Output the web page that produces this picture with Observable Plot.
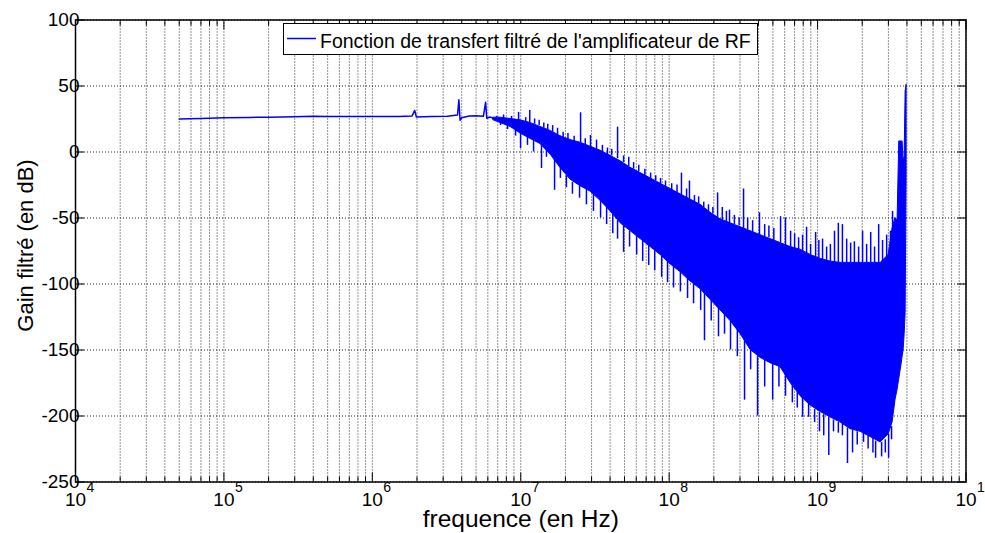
<!DOCTYPE html>
<html>
<head>
<meta charset="utf-8">
<script src="https://cdn.jsdelivr.net/npm/d3@7"></script>
<script src="https://cdn.jsdelivr.net/npm/@observablehq/plot@0.6"></script>
<style>
  html, body { margin: 0; padding: 0; background: #fff; }
  #wrap { position: relative; width: 985px; height: 533px; overflow: hidden; }
  #legend { position: absolute; left: 282.5px; top: 22.5px; width: 475px; height: 32px; box-sizing: border-box; border: 1px solid #000; background: #fff; }
</style>
</head>
<body>
<div id="wrap"><div id="chart"></div><div id="legend"></div></div>
<script>
// ---------------- data ----------------
const seriesName = "Fonction de transfert filtré de l'amplificateur de RF";
const xLabel = "frequence (en Hz)";
const yLabel = "Gain filtré (en dB)";

// low-frequency, clean part of the response
const flatFreq = [5e4, 7e4, 1e5, 1.5e5, 2e5, 3e5, 4e5, 5e5, 7e5, 1e6, 1.5e6, 1.85e6, 1.93e6, 1.98e6, 2.5e6, 3.2e6, 3.75e6, 3.83e6, 3.9e6, 4.0e6, 4.5e6, 5.0e6, 5.6e6, 5.8e6, 5.9e6, 6.2e6, 6.56e6];
const flatGain = [25.0, 25.4, 25.9, 26.2, 26.4, 26.7, 27.0, 26.8, 26.9, 26.8, 26.9, 27.2, 31.5, 26.5, 26.8, 27.0, 28.0, 39.5, 24.0, 26.0, 27.2, 27.5, 27.0, 37.7, 25.5, 26.5, 25.5];

// noisy part: envelope of the dense band
const bandFreq = [6.56e6, 7.31e6, 8.54e6, 9.97e6, 1.16e7, 1.36e7, 1.59e7, 1.85e7, 2.17e7, 2.53e7, 2.95e7, 3.45e7, 4.03e7, 4.71e7, 5.50e7, 6.42e7, 7.50e7, 8.75e7, 1.02e8, 1.19e8, 1.39e8, 1.63e8, 1.90e8, 2.22e8, 2.59e8, 3.03e8, 3.54e8, 4.13e8, 4.82e8, 5.63e8, 6.58e8, 7.68e8, 8.97e8, 1.05e9, 1.22e9, 1.43e9, 1.67e9, 1.95e9, 2.28e9, 2.66e9, 3.01e9, 3.20e9, 3.35e9, 3.46e9, 3.55e9, 3.69e9, 3.74e9, 3.80e9, 3.86e9, 3.92e9, 3.98e9];
const bandHigh = [26, 26, 25, 24, 22, 19, 16, 12, 9, 7, 4, 1, -3, -7, -12, -16, -20, -24, -28, -32, -36, -40, -46, -51, -54, -57, -60, -63, -66, -69, -72, -74, -78, -81, -83, -84, -84, -84, -84, -84, -78, -58, -50, -52, 8, 8, 8, -8, -3, 46, 51];
const bandLow  = [24, 22, 19, 14, 10, 6, -2, -12, -21, -26, -30, -37, -45, -54, -60, -66, -72, -78, -85, -91, -98, -104, -112, -120, -128, -138, -150, -156, -160, -163, -175, -185, -192, -197, -201, -205, -210, -212, -216, -220, -214, -205, -188, -180, -172, -160, -155, -150, -138, -122, -16];

// spikes above the band: frequency, base, tip
const upFreq = [6.87e6, 7.66e6, 8.67e6, 9.67e6, 1.08e7, 1.15e7, 1.24e7, 1.33e7, 1.43e7, 1.52e7, 1.64e7, 1.77e7, 1.93e7, 2.08e7, 2.29e7, 2.53e7, 2.72e7, 2.95e7, 3.24e7, 3.55e7, 3.84e7, 4.10e7, 4.49e7, 4.93e7, 5.34e7, 5.76e7, 6.24e7, 6.86e7, 7.50e7, 8.12e7, 8.75e7, 9.45e7, 1.04e8, 1.13e8, 1.21e8, 1.31e8, 1.37e8, 1.48e8, 1.58e8, 1.71e8, 1.84e8, 1.97e8, 2.12e8, 2.28e8, 2.43e8, 2.55e8, 2.75e8, 2.96e8, 3.17e8, 3.38e8, 3.65e8, 4.06e8, 4.40e8, 4.70e8, 5.07e8, 5.63e8, 6.08e8, 6.58e8, 7.00e8, 7.45e8, 7.92e8, 8.43e8, 8.97e8, 9.70e8, 1.02e9, 1.08e9, 1.15e9, 1.22e9, 1.30e9, 1.38e9, 1.47e9, 1.57e9, 1.67e9, 1.77e9, 1.89e9, 2.01e9, 2.14e9, 2.28e9, 2.42e9, 2.58e9, 2.74e9, 2.92e9, 3.10e9, 3.20e9];
const upBase = [26, 25, 25, 24, 23, 22, 21, 20, 18, 17, 15, 13, 11, 9, 8, 7, 5, 4, 2, 0, -2, -3, -5, -8, -11, -13, -15, -18, -20, -22, -24, -26, -29, -31, -33, -35, -36, -38, -39, -42, -45, -47, -50, -52, -53, -54, -55, -56, -58, -59, -61, -63, -64, -65, -67, -69, -71, -72, -73, -74, -75, -77, -78, -80, -81, -82, -83, -83, -84, -84, -84, -84, -84, -84, -84, -84, -84, -84, -84, -84, -84, -80, -70, -60];
const upTip  = [27, 28, 27, 30, 26, 31.4, 25, 24, 22, 21, 20, 18, 15, 14, 12, 29.7, 10, 12.5, 9, 5, 3, 2, 18.8, -3, -4, -8, -10, -13, -16, -18, -20, -22, -24, -25, -16, -28, -22, -33, -34, -38, -40, -42, -31, -42, -45, -44, -48, -50, -28, -50, -52, -46, -55, -56, -58, -49, -50, -60, -62, -65, -63, -57, -70, -61, -67, -66, -72, -70, -60, -54, -55, -66, -69, -68, -72, -60, -70, -61, -72, -55, -67, -63, -60, -45];

// spikes below the band: frequency, base, tip
const downFreq = [7.31e6, 8.15e6, 9.23e6, 9.97e6, 1.11e7, 1.22e7, 1.38e7, 1.49e7, 1.69e7, 1.85e7, 2.03e7, 2.23e7, 2.49e7, 2.77e7, 3.09e7, 3.45e7, 3.79e7, 4.17e7, 4.49e7, 4.93e7, 5.41e7, 6.04e7, 6.63e7, 7.28e7, 7.99e7, 8.90e7, 9.75e7, 1.07e8, 1.19e8, 1.33e8, 1.46e8, 1.63e8, 1.73e8, 1.92e8, 2.15e8, 2.36e8, 2.59e8, 2.88e8, 3.22e8, 3.54e8, 3.94e8, 4.40e8, 4.98e8, 5.49e8, 6.08e8, 6.76e8, 7.30e8, 7.92e8, 8.70e8, 9.55e8, 1.03e9, 1.10e9, 1.19e9, 1.28e9, 1.38e9, 1.47e9, 1.59e9, 1.72e9, 1.85e9, 2.04e9, 2.19e9, 2.36e9, 2.46e9, 2.70e9, 2.86e9, 3.01e9, 3.15e9];
const downBase = [22, 20, 17, 14, 11, 9, 6, 2, -4, -12, -18, -23, -26, -28, -31, -37, -42, -47, -52, -56, -60, -64, -67, -71, -75, -79, -83, -87, -91, -96, -100, -104, -107, -112, -118, -123, -128, -134, -142, -150, -155, -158, -160, -162, -167, -176, -182, -186, -190, -195, -197, -199, -201, -203, -205, -206, -209, -211, -212, -213, -215, -217, -219, -220, -218, -214, -208];
const downTip  = [20, 17, 12, 2.6, 5, 0, -12.5, -4, -29, -20, -27, -32, -35, -40, -45, -50, -55, -62, -66, -76, -72, -78, -83, -86, -90, -95, -99, -103, -106, -111, -115, -120, -143, -128, -140, -138, -150, -155, -188, -165, -200, -178, -188, -178, -185, -190, -194, -201, -201, -205, -212, -215, -230, -212, -213, -215, -236, -228, -222, -220, -225, -228, -232, -231, -228, -232, -218];

// axes
const xMajorTicks = [1e4, 1e5, 1e6, 1e7, 1e8, 1e9, 1e10];
const xMinorFactors = [2, 3, 4, 5, 6, 7, 8, 9];
const yTicks = [-250, -200, -150, -100, -50, 0, 50, 100];

// ---------------- tables built from the arrays ----------------
const flat = flatFreq.map((f, i) => ({f, g: flatGain[i]}));
const band = bandFreq.map((f, i) => ({f, hi: bandHigh[i], lo: bandLow[i]}));
const ups = upFreq.map((f, i) => ({f, a: upBase[i], b: upTip[i]}));
const downs = downFreq.map((f, i) => ({f, a: downBase[i], b: downTip[i]}));
const xMinorTicks = xMajorTicks.slice(0, -1).flatMap(d => xMinorFactors.map(k => d * k));
const xAllGrid = xMajorTicks.concat(xMinorTicks);

const BLUE = "#0000ff";
const FONT = "'Liberation Sans', Arial, Helvetica, sans-serif";
const GRID = {stroke: "#000", strokeOpacity: 0.85, strokeWidth: 1, strokeDasharray: "1,2"};

const chart = Plot.plot({
  width: 985,
  height: 533,
  marginLeft: 75,
  marginRight: 19.5,
  marginTop: 19.5,
  marginBottom: 51.5,
  style: {fontFamily: FONT, background: "#fff", color: "#000", overflow: "visible"},
  x: {type: "log", domain: [1e4, 1e10], label: null},
  y: {domain: [-250, 100], label: null},
  marks: [
    Plot.gridX(xAllGrid, GRID),
    Plot.gridY(yTicks, GRID),

    Plot.areaY(band, {x: "f", y1: "lo", y2: "hi", fill: BLUE, stroke: BLUE, strokeWidth: 1, curve: "linear"}),
    Plot.ruleX(ups, {x: "f", y1: "a", y2: "b", stroke: BLUE, strokeWidth: 1.5}),
    Plot.ruleX(downs, {x: "f", y1: "a", y2: "b", stroke: BLUE, strokeWidth: 1.5}),
    Plot.line(flat, {x: "f", y: "g", stroke: BLUE, strokeWidth: 1.5}),

    // inward ticks (MATLAB style)
    Plot.axisX(xMinorTicks, {anchor: "bottom", tickSize: -5, tickFormat: () => "", label: null}),
    Plot.axisX(xMinorTicks, {anchor: "top", tickSize: -5, tickFormat: () => "", label: null}),
    Plot.axisX(xMajorTicks, {anchor: "bottom", tickSize: -9, tickFormat: () => "", label: null}),
    Plot.axisX(xMajorTicks, {anchor: "top", tickSize: -9, tickFormat: () => "", label: null}),
    Plot.axisY(yTicks, {anchor: "left", tickSize: -9, tickFormat: () => "", label: null}),
    Plot.axisY(yTicks, {anchor: "right", tickSize: -9, tickFormat: () => "", label: null}),
    Plot.frame({stroke: "#000", strokeWidth: 1.5}),

    // tick labels
    Plot.text(yTicks, {y: d => d, frameAnchor: "left", text: d => String(d), textAnchor: "end", lineAnchor: "middle", dx: 4, fontSize: 19, fill: "#000"}),
    Plot.text(xMajorTicks, {x: d => d, frameAnchor: "bottom", text: () => "10", textAnchor: "middle", lineAnchor: "bottom", dy: 23.5, fontSize: 19, fill: "#000"}),
    Plot.text(xMajorTicks, {x: d => d, frameAnchor: "bottom", text: d => String(Math.round(Math.log10(d))), textAnchor: "start", lineAnchor: "bottom", dx: 11, dy: 9.5, fontSize: 14, fill: "#000"}),

    // axis titles
    Plot.text([xLabel], {frameAnchor: "bottom", text: d => d, textAnchor: "middle", lineAnchor: "bottom", dy: 44.5, fontSize: 24.5, fill: "#000"}),
    Plot.text([yLabel], {frameAnchor: "left", text: d => d, rotate: -90, textAnchor: "middle", lineAnchor: "middle", dx: -50, dy: -5.5, fontSize: 22, fill: "#000"})
  ]
});
document.getElementById("chart").appendChild(chart);

// legend (inside the axes, top centre)
const lg = d3.select("#legend").append("svg").attr("width", 473).attr("height", 30)
  .style("display", "block").style("font-family", FONT);
lg.append("line").attr("x1", 3).attr("x2", 32).attr("y1", 14.5).attr("y2", 14.5)
  .attr("stroke", BLUE).attr("stroke-width", 1.5);
lg.append("text").attr("x", 36).attr("y", 23.5).attr("font-size", 19.5).attr("fill", "#000").text(seriesName);
</script>
</body>
</html>
